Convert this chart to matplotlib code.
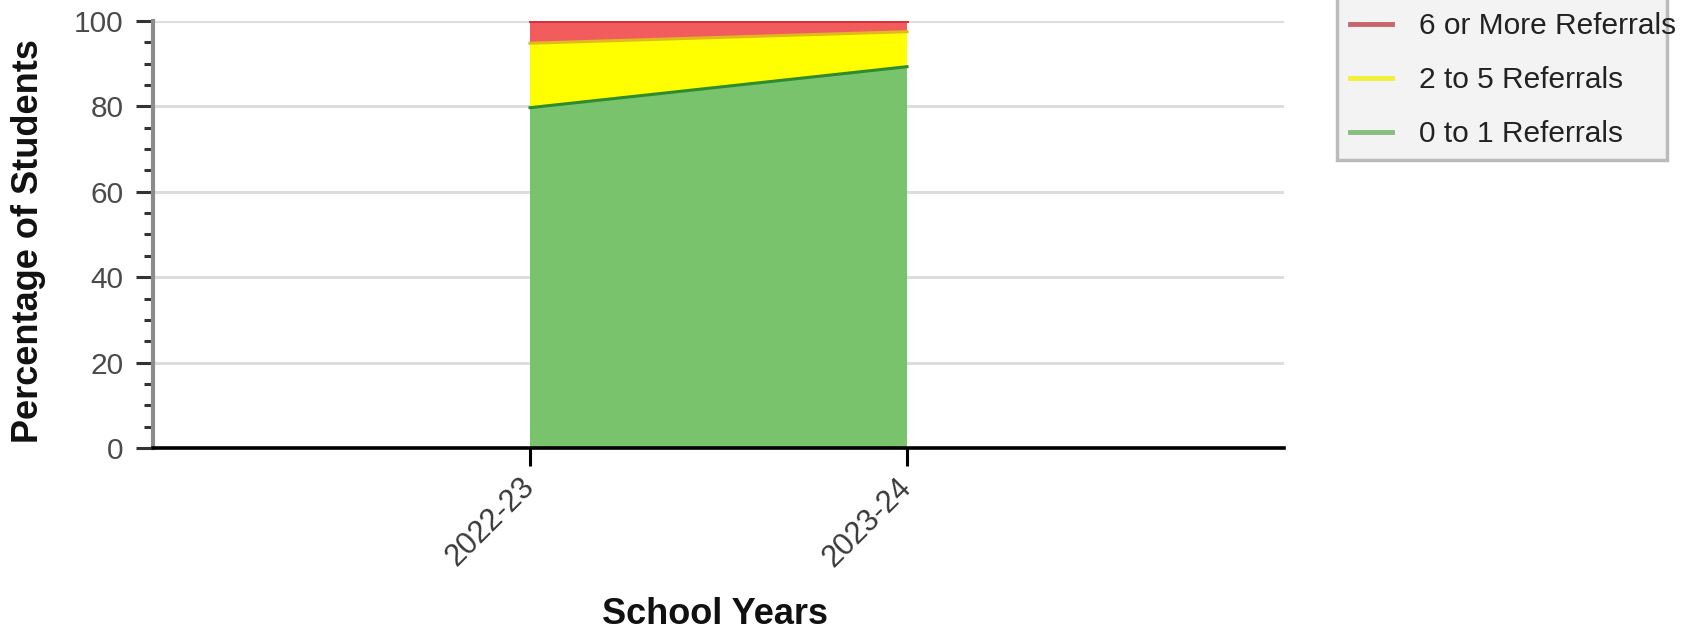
import matplotlib
matplotlib.use("Agg")
import matplotlib.pyplot as plt
from matplotlib.ticker import MultipleLocator
from matplotlib.lines import Line2D
from matplotlib.patches import Rectangle

plt.rcParams['font.family'] = ['Liberation Sans', 'DejaVu Sans']

years = ["2022-23", "2023-24"]
zero_to_one = [79.7, 89.3]
two_to_five = [15.1, 8.2]
six_or_more = [5.2, 2.5]

series_labels = ["0 to 1 Referrals", "2 to 5 Referrals", "6 or More Referrals"]
fill_colors = ["#78c36c", "#ffff00", "#f25c5c"]
line_colors = ["#2e8b2e", "#e0b820", "#d8323c"]
legend_colors = ["#86bf7e", "#f0f038", "#c8646c"]

fig = plt.figure(figsize=(16.83, 6.29), dpi=100)
ax = fig.add_axes([153/1683, 1 - 448/629, (1284 - 153)/1683, (448 - 21)/629])

x = list(range(len(years)))
bottom = [0.0] * len(years)
for vals, fc, lc in zip([zero_to_one, two_to_five, six_or_more], fill_colors, line_colors):
    top = [b + v for b, v in zip(bottom, vals)]
    ax.fill_between(x, bottom, top, facecolor=fc, edgecolor='none', zorder=2)
    ax.plot(x, top, color=lc, lw=2.2, zorder=3)
    bottom = top

ax.set_xlim(-1, 2)
ax.set_ylim(0, 100)
ax.set_xticks(x)
ax.set_xticklabels(years, rotation=45, ha='right', va='center', rotation_mode='anchor',
                   fontsize=22, color='#3a3a3a')
ax.set_yticks([0, 20, 40, 60, 80, 100])
ax.yaxis.set_minor_locator(MultipleLocator(5))
ax.tick_params(axis='y', which='major', length=12, width=2.2, color='#333333',
               labelsize=21.5, labelcolor='#4a4a4a', pad=9)
ax.tick_params(axis='y', which='minor', length=6.5, width=2.2, color='#333333')
ax.tick_params(axis='x', which='major', length=13, width=2.2, color='black', pad=12)

ax.grid(axis='y', color='#dddddd', lw=2.2, zorder=0)
ax.set_axisbelow(True)
for s in ['top', 'right']:
    ax.spines[s].set_visible(False)
ax.spines['left'].set_color('#8c8c8c')
ax.spines['left'].set_linewidth(3)
ax.spines['bottom'].set_color('black')
ax.spines['bottom'].set_linewidth(2.6)
ax.spines['bottom'].set_zorder(5)

fig.text(29/1683, 1 - 241.5/629, "Percentage of Students", fontsize=26, fontweight='bold',
         rotation=90, ha='center', va='center', color='#111111')
fig.text(715/1683, 1 - 614/629, "School Years", fontsize=26, fontweight='bold',
         ha='center', va='center', color='#111111')

# legend box (text overflows the frame slightly, as in the reference)
box = Rectangle((1337/1683, 1 - 160/629), (1667 - 1337)/1683, 175/629,
                transform=fig.transFigure, facecolor='#f3f3f3', edgecolor='#bbbbbb',
                lw=2.5, zorder=0)
fig.patches.append(box)

handles = [Line2D([0], [0], color=c, lw=3.5) for c in legend_colors]
order = [2, 1, 0]
leg = fig.legend([handles[i] for i in order], [series_labels[i] for i in order],
                 loc='upper left', bbox_to_anchor=(1337/1683, 1.002), fontsize=21.5,
                 frameon=False, labelspacing=0.87, handlelength=1.4,
                 handletextpad=0.9, borderpad=0.45, borderaxespad=0)
for t in leg.get_texts():
    t.set_color('#222222')

fig.savefig("out.png", dpi=100)
